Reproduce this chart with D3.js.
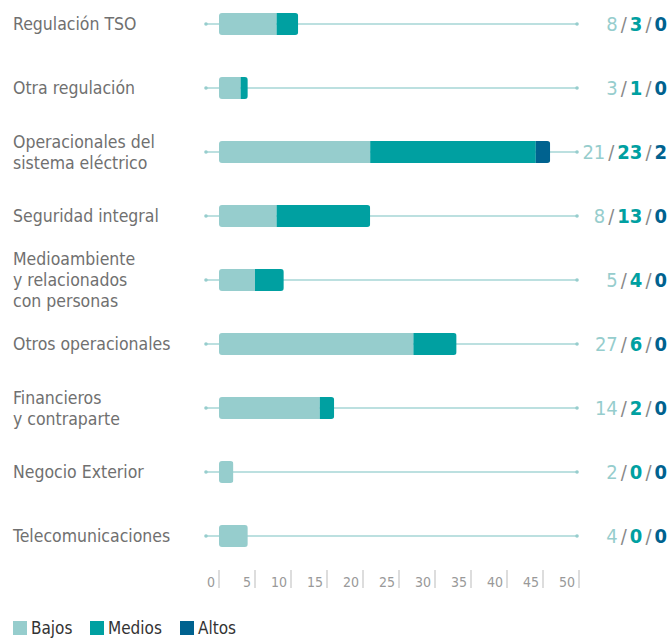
<!DOCTYPE html>
<html lang="es">
<head>
  <meta charset="UTF-8">
  <title>Riesgos</title>
  <script src="https://d3js.org/d3.v7.min.js"></script>
  <style>
    body { margin: 0; background: #fff; }
    text { font-family: "Liberation Sans Narrow", "DejaVu Sans Condensed", "Roboto", sans-serif; font-stretch: condensed; }
  </style>
</head>
<body>
  <svg id="svg" width="672" height="638"></svg>
  <script>
    var categories = [
      ["Regulación TSO"],
      ["Otra regulación"],
      ["Operacionales del", "sistema eléctrico"],
      ["Seguridad integral"],
      ["Medioambiente", "y relacionados", "con personas"],
      ["Otros operacionales"],
      ["Financieros", "y contraparte"],
      ["Negocio Exterior"],
      ["Telecomunicaciones"]
    ]
    var bajos  = [8, 3, 21, 8, 5, 27, 14, 2, 4]
    var medios = [3, 1, 23, 13, 4, 6, 2, 0, 0]
    var altos  = [0, 0, 2, 0, 0, 0, 0, 0, 0]
    var ticks = [0, 5, 10, 15, 20, 25, 30, 35, 40, 45, 50]
    var seriesNames = ["Bajos", "Medios", "Altos"]
    var colors = ["#96cdcd", "#00a0a1", "#00628f"]

    var svg = d3.select("#svg")

    // escala horizontal
    var x = d3.scaleLinear().domain([0, 50]).range([219, 579])
    // filas
    var y = d3.scaleBand()
      .domain(d3.range(categories.length))
      .range([-8, 568])

    var rows = svg.selectAll("g.row")
      .data(categories)
      .enter()
      .append("g")
      .attr("class", "row")
      .attr("transform", (d, i) => "translate(0," + (y(i) + y.bandwidth() / 2) + ")")

    // linea de fondo con puntos
    rows.append("line")
      .attr("x1", 206).attr("x2", x(50) - 2)
      .attr("y1", 0).attr("y2", 0)
      .attr("stroke", "#a6d6d6").attr("stroke-width", 1.3)
    rows.append("circle").attr("cx", 206).attr("cy", 0).attr("r", 1.8).attr("fill", "#96cdcd")
    rows.append("circle").attr("cx", x(50) - 2).attr("cy", 0).attr("r", 1.8).attr("fill", "#96cdcd")

    // barras apiladas
    var stackData = categories.map((c, i) => ({ Bajos: bajos[i], Medios: medios[i], Altos: altos[i] }))
    var stacked = d3.stack().keys(seriesNames)(stackData)
    var totals = categories.map((c, i) => bajos[i] + medios[i] + altos[i])

    rows.each(function (d, i) {
      var g = d3.select(this)
      var clipId = "clip" + i
      g.append("clipPath").attr("id", clipId)
        .append("rect")
        .attr("x", x(0)).attr("y", -11)
        .attr("width", x(totals[i]) - x(0)).attr("height", 22)
        .attr("rx", 3)
      stacked.forEach((s, k) => {
        var seg = s[i]
        if (seg[1] - seg[0] <= 0) return
        g.append("rect")
          .attr("clip-path", "url(#" + clipId + ")")
          .attr("x", x(seg[0])).attr("y", -11)
          .attr("width", x(seg[1]) - x(seg[0])).attr("height", 22)
          .attr("fill", colors[k])
      })
    })

    // etiquetas de categoria
    rows.append("text")
      .attr("x", 13)
      .attr("fill", "#707070")
      .style("font-size", "17.5px")
      .each(function (d) {
        var t = d3.select(this)
        var n = d.length
        d.forEach((line, j) => {
          t.append("tspan")
            .attr("x", 13)
            .attr("y", 6 + (j - (n - 1) / 2) * 21)
            .text(line)
        })
      })

    // valores a la derecha
    rows.append("text")
      .attr("x", 667).attr("y", 7)
      .attr("text-anchor", "end")
      .style("font-size", "20px")
      .each(function (d, i) {
        var t = d3.select(this)
        var vals = [bajos[i], medios[i], altos[i]]
        vals.forEach((v, k) => {
          if (k > 0) t.append("tspan").attr("fill", "#888").attr("dx", 3).style("font-weight", "normal").text("/")
          t.append("tspan").attr("fill", colors[k]).attr("dx", k > 0 ? 3 : 0)
            .style("font-weight", k > 0 ? "bold" : "normal").text(v)
        })
      })

    // eje inferior
    var axis = svg.append("g").attr("class", "axis")
    axis.selectAll("line")
      .data(ticks)
      .enter()
      .append("line")
      .attr("x1", d => x(d)).attr("x2", d => x(d))
      .attr("y1", 570).attr("y2", 588)
      .attr("stroke", "#bbb").attr("stroke-width", 1)
    axis.selectAll("text")
      .data(ticks)
      .enter()
      .append("text")
      .attr("x", d => x(d) - 4).attr("y", 587)
      .attr("text-anchor", "end")
      .attr("fill", "#999")
      .style("font-size", "14px")
      .text(d => d)

    // leyenda
    var legendX = [13, 90, 180]
    var legend = svg.selectAll("g.legend")
      .data(seriesNames)
      .enter()
      .append("g")
      .attr("class", "legend")
      .attr("transform", (d, i) => "translate(" + legendX[i] + ",621)")
    legend.append("rect")
      .attr("width", 14).attr("height", 14)
      .attr("fill", (d, i) => colors[i])
    legend.append("text")
      .attr("x", 18).attr("y", 13)
      .attr("fill", "#333")
      .style("font-size", "17px")
      .text(d => d)
  </script>
</body>
</html>
